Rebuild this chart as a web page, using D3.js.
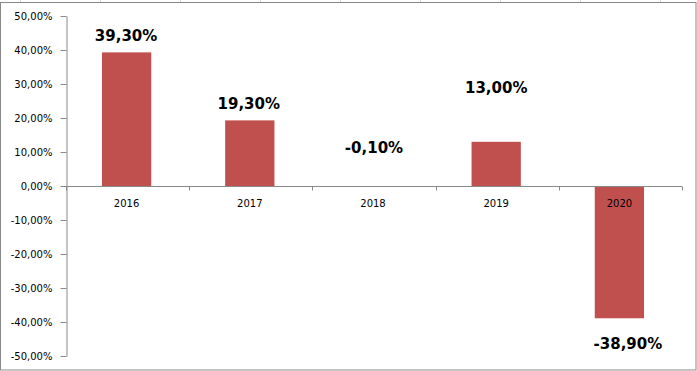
<!DOCTYPE html>
<html>
<head>
<meta charset="utf-8">
<script src="https://cdn.jsdelivr.net/npm/d3@7"></script>
<style>
  html, body { margin: 0; padding: 0; background: #fff; }
  svg { display: block; }
</style>
</head>
<body>
<svg id="chart" width="697" height="371"></svg>
<script>
// ---- data ----
const categories = ["2016", "2017", "2018", "2019", "2020"];
const values = [39.3, 19.3, -0.1, 13.0, -38.9];
const dataLabels = ["39,30%", "19,30%", "-0,10%", "13,00%", "-38,90%"];
const yTicks = [-50, -40, -30, -20, -10, 0, 10, 20, 30, 40, 50];

// ---- layout (manually placed data labels, in px relative to bar end) ----
const labelDx = [-1.5, -2, 0, -1, 7.5];
const labelDy = [-11.7, -11.4, -33, -49, 30.7];

const svg = d3.select("#chart");
const W = 697, H = 371;
const plotLeft = 66, plotRight = 682;

// faint spreadsheet gridlines at very top
svg.append("g").selectAll("line")
  .data(d3.range(20, W, 80))
  .join("line")
  .attr("x1", d => d + 0.5).attr("x2", d => d + 0.5)
  .attr("y1", 0).attr("y2", 2)
  .attr("stroke", "#d9d9d9");

// chart border
svg.append("rect")
  .attr("x", 0.5).attr("y", 2.5)
  .attr("width", 695.5).attr("height", 367.5)
  .attr("fill", "#fff")
  .attr("stroke", "#898989");

const y = d3.scaleLinear().domain([-50, 50]).range([356, 16]);
const x = d3.scaleBand().domain(categories).range([plotLeft, plotRight]).padding(0);
const barW = x.bandwidth() * 0.4;

const fmt = d => d.toFixed(2).replace(".", ",") + "%";

// bars
svg.append("g").selectAll("rect")
  .data(values)
  .join("rect")
  .attr("x", (d, i) => x(categories[i]) + x.bandwidth() / 2 - barW / 2 - 1)
  .attr("width", barW)
  .attr("y", d => Math.min(y(d), y(0)))
  .attr("height", d => Math.abs(y(d) - y(0)))
  .attr("fill", "#C0504D");

// y axis
const yAxis = svg.append("g")
  .attr("transform", `translate(${plotLeft + 0.5},0)`)
  .call(d3.axisLeft(y).tickValues(yTicks).tickFormat(fmt).tickSize(6).tickSizeOuter(0).tickPadding(8));
yAxis.select(".domain").attr("stroke", "#898989");
yAxis.selectAll(".tick line").attr("stroke", "#898989");
yAxis.selectAll(".tick text")
  .attr("fill", "#000")
  .style("font-family", "'DejaVu Sans', Verdana, sans-serif")
  .style("font-size", "10px");

// x axis line at zero
const y0 = Math.round(y(0)) + 0.5;
svg.append("line")
  .attr("x1", plotLeft).attr("x2", plotRight)
  .attr("y1", y0).attr("y2", y0)
  .attr("stroke", "#898989");
// x ticks at band boundaries
const bounds = categories.map(c => x(c)).concat([plotRight]);
svg.append("g").selectAll("line")
  .data(bounds)
  .join("line")
  .attr("x1", d => Math.round(d) + 0.5).attr("x2", d => Math.round(d) + 0.5)
  .attr("y1", y0).attr("y2", y0 + 4)
  .attr("stroke", "#898989");
// category labels
svg.append("g").selectAll("text")
  .data(categories)
  .join("text")
  .attr("x", d => x(d) + x.bandwidth() / 2 - 1)
  .attr("y", y0 + 20.5)
  .attr("text-anchor", "middle")
  .attr("fill", "#000")
  .style("font-family", "'DejaVu Sans', Verdana, sans-serif")
  .style("font-size", "10px")
  .text(d => d);

// data labels
svg.append("g").selectAll("text")
  .data(values)
  .join("text")
  .attr("x", (d, i) => x(categories[i]) + x.bandwidth() / 2 + labelDx[i])
  .attr("y", (d, i) => y(d) + labelDy[i])
  .attr("text-anchor", "middle")
  .attr("fill", "#000")
  .style("font-family", "'DejaVu Sans', Verdana, sans-serif")
  .style("font-size", "15px")
  .style("font-weight", "bold")
  .text((d, i) => dataLabels[i]);
</script>
</body>
</html>
